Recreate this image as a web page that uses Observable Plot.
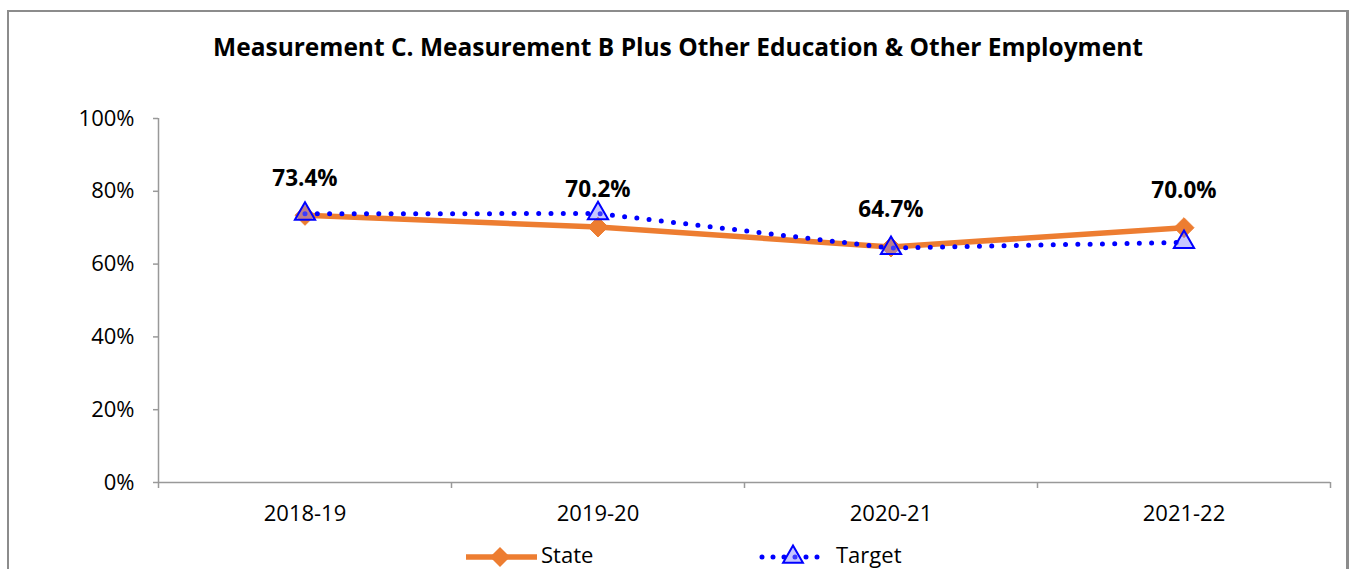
<!DOCTYPE html>
<html><head><meta charset="utf-8">
<script src="https://cdn.jsdelivr.net/npm/d3@7"></script>
<script src="https://cdn.jsdelivr.net/npm/@observablehq/plot@0.6"></script>
<style>
body{margin:0;background:#fff;}
#wrap{position:relative;width:1354px;height:569px;overflow:hidden;font-family:"Open Sans",sans-serif;background:#fff;}
#frame{position:absolute;left:7px;top:10px;width:1342px;height:640px;border:2px solid #8c8c8c;border-right-width:3px;box-sizing:border-box;}
#title{position:absolute;left:7px;width:1342px;top:31px;text-align:center;font-weight:bold;font-size:24.5px;line-height:32px;color:#000;}
#chart{position:absolute;left:0;top:0;}
#legend{position:absolute;left:0;top:538px;}
</style></head>
<body>
<div id="wrap">
  <div id="frame"></div>
  <div id="title">Measurement C. Measurement B Plus Other Education &amp; Other Employment</div>
  <div id="chart"></div>
  <div id="legend"></div>
</div>
<script>
const categories = ["2018-19", "2019-20", "2020-21", "2021-22"];
const stateValues = [73.4, 70.2, 64.7, 70.0];
const targetValues = [73.8, 73.9, 64.4, 66.0];
const yTicks = [0, 20, 40, 60, 80, 100];
const seriesNames = ["State", "Target"];

const orange = "#ED7D31";
const blue = "#0000FF";
const axisGray = "#999999";
const font = "'Open Sans', sans-serif";

const rows = categories.map((c, i) => ({c, pos: i + 0.5, state: stateValues[i], target: targetValues[i]}));
const bounds = d3.range(categories.length + 1);

const chart = Plot.plot({
  width: 1354, height: 569,
  marginLeft: 158, marginRight: 24, marginTop: 118, marginBottom: 87,
  x: {type: "linear", domain: [0, categories.length], axis: null, label: null},
  y: {domain: [0, 100], axis: null, label: null},
  style: {fontFamily: font, fontSize: "22px", color: "#000", background: "transparent", overflow: "visible"},
  marks: [
    Plot.ruleY([0], {stroke: axisGray, strokeWidth: 1.5}),
    Plot.ruleX([0], {stroke: axisGray, strokeWidth: 1.5}),
    Plot.axisY({ticks: yTicks, tickFormat: d => d + "%", tickSize: 5, tickPadding: 19, stroke: axisGray, strokeWidth: 1.5, fill: "#000", label: null}),
    Plot.axisX({ticks: bounds, tickFormat: () => "", tickSize: 6, stroke: axisGray, strokeWidth: 1.5, label: null}),
    Plot.axisX({ticks: rows.map(d => d.pos), tickFormat: d => categories[Math.floor(d)], tickSize: 0, tickPadding: 23, fill: "#000", label: null}),
    Plot.line(rows, {x: "pos", y: "state", stroke: orange, strokeWidth: 5.5, strokeLinejoin: "round"}),
    Plot.dot(rows, {x: "pos", y: "state", symbol: "diamond2", r: 9, fill: orange, stroke: orange, strokeWidth: 1}),
    Plot.line(rows, {x: "pos", y: "target", stroke: blue, strokeWidth: 5, strokeDasharray: "0 12.3", strokeLinecap: "round"}),
    Plot.dot(rows, {x: "pos", y: "target", symbol: "triangle", r: 7.5, fill: "#8080ff", fillOpacity: 0.45, stroke: blue, strokeWidth: 2}),
    Plot.text(rows, {x: "pos", y: "state", text: d => d.state.toFixed(1) + "%", dy: -37, fontWeight: "bold", fontSize: 22.5, fill: "#000"})
  ]
});
document.getElementById("chart").appendChild(chart);

// Legend
const lg = d3.select("#legend").append("svg").attr("width", 1354).attr("height", 31)
  .style("font-family", font).style("font-size", "22px");
const ly = 19;
const s = lg.append("g");
s.append("line").attr("x1", 466).attr("x2", 537).attr("y1", ly).attr("y2", ly)
  .attr("stroke", orange).attr("stroke-width", 5.5);
s.append("path").attr("d", d3.symbol(d3.symbolDiamond2, 256)()).attr("transform", `translate(500,${ly})`)
  .attr("fill", orange);
s.append("text").attr("x", 541).attr("y", ly + 6).text(seriesNames[0]);
const t = lg.append("g");
t.append("line").attr("x1", 762).attr("x2", 826).attr("y1", ly).attr("y2", ly)
  .attr("stroke", blue).attr("stroke-width", 5).attr("stroke-dasharray", "0 11").attr("stroke-linecap", "round");
t.append("path").attr("d", d3.symbol(d3.symbolTriangle, 170)()).attr("transform", `translate(793,${ly})`)
  .attr("fill", "#8080ff").attr("fill-opacity", 0.45).attr("stroke", blue).attr("stroke-width", 2);
t.append("text").attr("x", 836).attr("y", ly + 6).text(seriesNames[1]);
</script>
</body></html>
